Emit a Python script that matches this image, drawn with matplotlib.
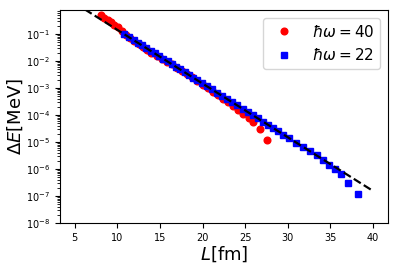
import matplotlib
matplotlib.use("Agg")
import matplotlib.pyplot as plt

# hbar*omega = 40 data
L_40 = [8.05, 8.45, 8.85, 9.25, 9.65, 10.05, 10.5, 11.0, 11.5, 12.0, 12.5, 13.0,
        13.5, 14.0, 14.6, 15.2, 15.8, 16.4, 17.0, 17.6, 18.2, 18.8, 19.4, 20.0,
        20.6, 21.2, 21.8, 22.4, 23.0, 23.6, 24.2, 24.8, 25.4, 25.9, 26.8, 27.6]
dE_40 = [0.50, 0.41, 0.33, 0.27, 0.22, 0.178, 0.125, 8.9e-2, 7.0e-2, 5.5e-2, 4.4e-2, 3.4e-2,
         2.65e-2, 2.05e-2, 1.58e-2, 1.22e-2, 9.5e-3, 7.5e-3, 5.7e-3, 4.35e-3, 3.35e-3, 2.52e-3, 1.84e-3, 1.33e-3,
         9.9e-4, 7.3e-4, 5.4e-4, 4.0e-4, 2.95e-4, 2.2e-4, 1.6e-4, 1.13e-4, 7.9e-5, 5.5e-5, 3.0e-5, 1.2e-5]

# hbar*omega = 22 data
L_22 = [10.8, 11.4, 11.9, 12.4, 12.9, 13.4, 13.9, 14.4, 14.9, 15.4, 15.9, 16.4,
        16.9, 17.4, 17.9, 18.4, 18.9, 19.4, 19.9, 20.5, 21.1, 21.7, 22.3, 22.9,
        23.5, 24.1, 24.7, 25.3, 25.9, 26.5, 27.1, 27.7, 28.3, 28.9, 29.5, 30.2,
        31.0, 31.8, 32.6, 33.4, 34.1, 34.8, 35.5, 36.2, 37.1, 38.2]
dE_22 = [1.0e-1, 7.6e-2, 6.05e-2, 4.8e-2, 3.83e-2, 3.04e-2, 2.42e-2, 1.92e-2, 1.53e-2, 1.22e-2, 9.7e-3, 7.7e-3,
         6.1e-3, 4.9e-3, 3.87e-3, 3.08e-3, 2.45e-3, 1.95e-3, 1.55e-3, 1.17e-3, 8.9e-4, 6.8e-4, 5.15e-4, 3.92e-4,
         2.97e-4, 2.26e-4, 1.72e-4, 1.30e-4, 9.9e-5, 7.5e-5, 5.7e-5, 4.3e-5, 3.3e-5, 2.5e-5, 1.9e-5, 1.38e-5,
         9.6e-6, 6.6e-6, 4.6e-6, 3.2e-6, 2.16e-6, 1.46e-6, 1.0e-6, 6.5e-7, 3.0e-7, 1.2e-7]

# fitted line (straight on log scale)
L_fit = [5, 40]
dE_fit = [1.41, 1.55e-7]

x_ticks = [5, 10, 15, 20, 25, 30, 35, 40]

fig = plt.figure(figsize=(3.99, 2.70), dpi=100)
ax = fig.add_axes([0.150, 0.174, 0.822, 0.789])

ax.plot(L_40, dE_40, 'o', color='red', markersize=4.8, label=r'$\hbar\omega = 40$', zorder=2)
ax.plot(L_22, dE_22, 's', color='blue', markersize=4.5, label=r'$\hbar\omega = 22$', zorder=3)
ax.plot(L_fit, dE_fit, '--', color='black', linewidth=1.6, zorder=4)

ax.set_yscale('log')
ax.set_xlim(3.25, 41.75)
ax.set_ylim(1e-8, 0.78)
ax.set_xticks(x_ticks)
ax.tick_params(labelsize=7)
ax.set_xlabel(r'$L$[fm]', fontsize=13, labelpad=1)
ax.set_ylabel(r'$\Delta E$[MeV]', fontsize=13, labelpad=1)
ax.legend(loc='upper right', fontsize=11)

fig.savefig('out.png', dpi=100)
